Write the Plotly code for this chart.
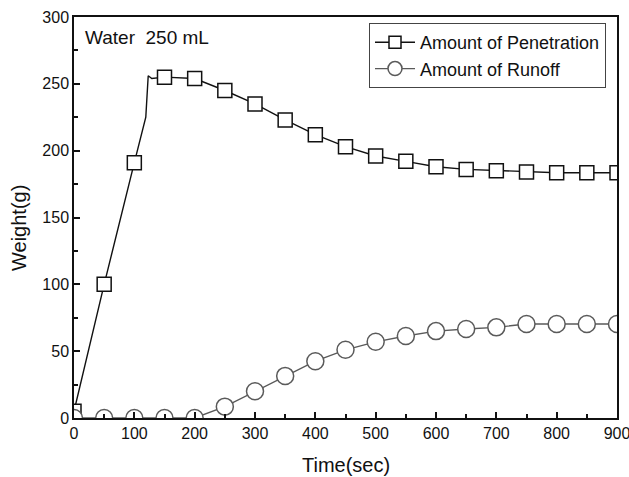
import plotly.graph_objects as go

# Penetration: full line path (includes unmarked intermediate points)
pen_line_t = [0, 50, 100, 119, 123, 129, 150, 200, 250, 300, 350, 400, 450, 500, 550, 600, 650, 700, 750, 800, 850, 900]
pen_line_w = [5, 100, 191, 225, 256, 254, 255, 254, 245, 235, 223, 212, 203, 196, 192, 188, 186, 185, 184, 183.5, 183.5, 183.5]
# Penetration: marked points
pen_t = [0, 50, 100, 150, 200, 250, 300, 350, 400, 450, 500, 550, 600, 650, 700, 750, 800, 850, 900]
pen_w = [5, 100, 191, 255, 254, 245, 235, 223, 212, 203, 196, 192, 188, 186, 185, 184, 183.5, 183.5, 183.5]
# Runoff
run_t = [0, 50, 100, 150, 200, 250, 300, 350, 400, 450, 500, 550, 600, 650, 700, 750, 800, 850, 900]
run_w = [0, 0, 0, 0, 0, 8.5, 20, 31.5, 42.5, 51, 57, 61.3, 65, 66.6, 67.8, 70.3, 70.3, 70.3, 70.3]

x_ticks = [0, 100, 200, 300, 400, 500, 600, 700, 800, 900]
y_ticks = [0, 50, 100, 150, 200, 250, 300]

FONT = "Arial, Liberation Sans, sans-serif"
BLACK = "#111111"
GRAY = "#5a5a5a"

W, H = 629, 477
ML, MR, MT, MB = 74, 12, 17, 59
PW, PH = W - ML - MR, H - MT - MB


def px_x(px):
    return (px - ML) / PW


def px_y(py):
    return (H - MB - py) / PH


fig = go.Figure()

fig.add_trace(go.Scatter(x=pen_line_t, y=pen_line_w, mode="lines",
                         line=dict(color=BLACK, width=1.4), showlegend=False, hoverinfo="skip"))
fig.add_trace(go.Scatter(x=pen_t, y=pen_w, mode="markers",
                         marker=dict(symbol="square", size=14, color="white",
                                     line=dict(color=BLACK, width=1.5)),
                         showlegend=False))
fig.add_trace(go.Scatter(x=run_t, y=run_w, mode="lines+markers",
                         line=dict(color=GRAY, width=1.4),
                         marker=dict(symbol="circle", size=17, color="white",
                                     line=dict(color=GRAY, width=1.5)),
                         showlegend=False))
# Legend entries
fig.add_trace(go.Scatter(x=[None], y=[None], mode="lines+markers", name="Amount of Penetration",
                         line=dict(color=BLACK, width=1.4),
                         marker=dict(symbol="square", size=12, color="white",
                                     line=dict(color=BLACK, width=1.5))))
fig.add_trace(go.Scatter(x=[None], y=[None], mode="lines+markers", name="Amount of Runoff",
                         line=dict(color=GRAY, width=1.4),
                         marker=dict(symbol="circle", size=14, color="white",
                                     line=dict(color=GRAY, width=1.5))))

fig.add_annotation(text="Water&nbsp; 250 mL", x=px_x(83), y=px_y(37), xref="paper", yref="paper",
                   xanchor="left", yanchor="middle", showarrow=False,
                   font=dict(family=FONT, size=19, color=BLACK))
# Axis titles as annotations for precise placement
fig.add_annotation(text="Weight(g)", x=px_x(19), y=px_y(228), xref="paper", yref="paper",
                   xanchor="center", yanchor="middle", showarrow=False, textangle=-90,
                   font=dict(family=FONT, size=20, color=BLACK))
fig.add_annotation(text="Time(sec)", x=px_x(346), y=px_y(465), xref="paper", yref="paper",
                   xanchor="center", yanchor="middle", showarrow=False,
                   font=dict(family=FONT, size=20, color=BLACK))

axis_common = dict(showline=True, linecolor=BLACK, linewidth=1.5, mirror=True,
                   ticks="inside", ticklen=6, tickwidth=1.5, tickcolor=BLACK,
                   showgrid=False, zeroline=False, automargin=False,
                   ticklabeloverflow="allow",
                   tickfont=dict(family=FONT, size=16, color=BLACK))

fig.update_xaxes(range=[0, 900], tickvals=x_ticks, ticktext=[str(v) for v in x_ticks],
                 minor=dict(ticks="inside", ticklen=4, tickwidth=1.5, tickcolor=BLACK, dtick=50, tick0=0),
                 **axis_common)
fig.update_yaxes(range=[0, 300], tickvals=y_ticks, ticktext=[str(v) for v in y_ticks],
                 minor=dict(ticks="inside", ticklen=4, tickwidth=1.5, tickcolor=BLACK, dtick=25, tick0=0),
                 **axis_common)

fig.update_layout(
    width=W, height=H,
    margin=dict(l=ML, r=MR, t=MT, b=MB, autoexpand=False),
    paper_bgcolor="white", plot_bgcolor="white",
    font=dict(family=FONT, color=BLACK),
    legend=dict(x=px_x(606), y=px_y(23),
                xanchor="right", yanchor="top",
                bgcolor="white", bordercolor="#444444", borderwidth=1,
                font=dict(family=FONT, size=18, color=BLACK),
                tracegroupgap=0, itemwidth=40),
)

fig.write_html("out.html")
